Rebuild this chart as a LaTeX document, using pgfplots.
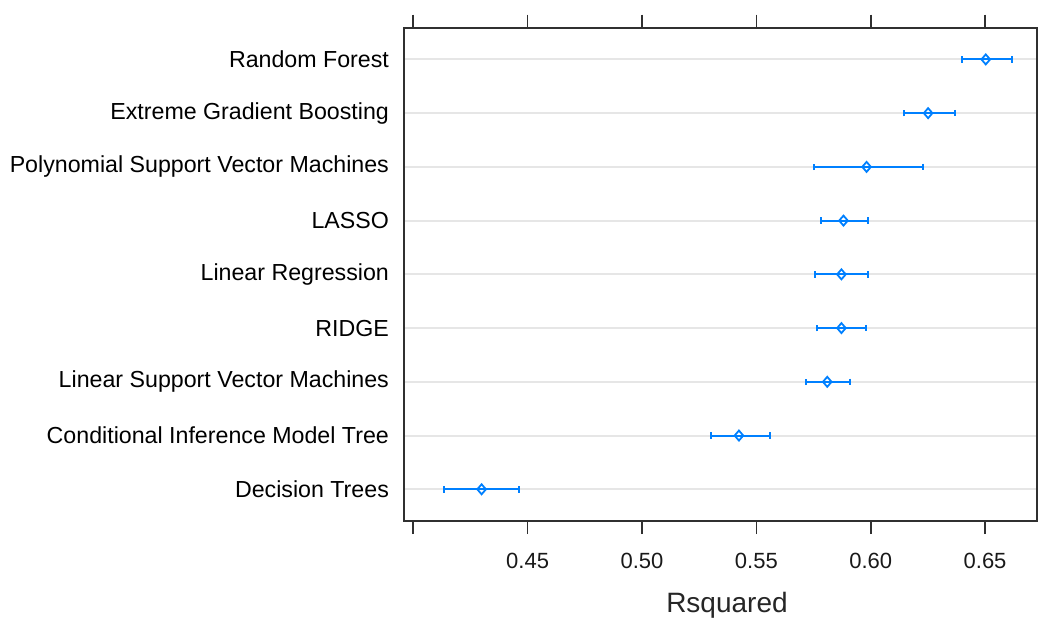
\documentclass[border=0pt]{standalone}
\usepackage{pgfplots}
\pgfplotsset{compat=1.18}
\usepackage{pgfplotstable}
\usepackage{fontspec}
\setmainfont{Liberation Sans}
\definecolor{latblue}{HTML}{0080FF}
\definecolor{refgray}{HTML}{E6E6E6}
\definecolor{axgray}{HTML}{303030}
\pgfplotstableread{
y lo m hi
1 0.4133 0.4299 0.4463
2 0.5303 0.5424 0.5558
3 0.5719 0.5810 0.5909
4 0.5766 0.5872 0.5979
5 0.5757 0.5872 0.5986
6 0.5782 0.5881 0.5986
7 0.5752 0.5982 0.6227
8 0.6144 0.6251 0.6369
9 0.6398 0.6503 0.6617
}\models
\begin{document}
\begin{tikzpicture}
\useasboundingbox (-202.15pt,-50.5pt) rectangle (316.85pt,260.5pt);
\begin{axis}[
  at={(0,0)}, anchor=south west,
  scale only axis, width=316.35pt, height=246.65pt,
  xmin=0.3961, xmax=0.6727, ymin=0.41, ymax=9.59,
  axis line style={axgray, line width=0.8pt},
  tick align=outside, major tick length=6.5pt,
  xtick={0.40,0.45,0.50,0.55,0.60,0.65},
  xticklabels={,0.45,0.50,0.55,0.60,0.65},
  xtick pos=both,
  xtick style={axgray, line width=0.8pt},
  xticklabel style={font=\fontsize{11}{13}\selectfont, anchor=base, yshift=-17pt, inner sep=0pt, text=black!90},
  ytick={1,...,9},
  yticklabels={Decision Trees,Conditional Inference Model Tree,Linear Support Vector Machines,RIDGE,Linear Regression,LASSO,Polynomial Support Vector Machines,Extreme Gradient Boosting,Random Forest},
  ytick style={draw=none},
  ytick pos=left,
  yticklabel style={font=\fontsize{11.6}{13}\selectfont, anchor=east, inner sep=0pt, xshift=-1pt, text=black},
  ymajorgrids, grid style={refgray, line width=1pt},
  xlabel={Rsquared},
  xlabel style={font=\fontsize{14}{16}\selectfont, at={(axis description cs:0.51,0)}, anchor=center, yshift=-42pt, text=black!85},
  /pgf/number format/assume math mode=true,
  clip=false,
]
\addplot[only marks, mark=diamond, mark size=2.5pt, latblue, line width=0.9pt,
  mark options={xscale=1.15},
  error bars/.cd, x dir=both, x explicit,
  error bar style={latblue, line width=1pt},
  error mark options={latblue, mark size=1.6pt, line width=1pt, rotate=90}]
  table[x=m, y=y, x error minus expr=\thisrow{m}-\thisrow{lo}, x error plus expr=\thisrow{hi}-\thisrow{m}] {\models};
\end{axis}
\end{tikzpicture}
\end{document}
